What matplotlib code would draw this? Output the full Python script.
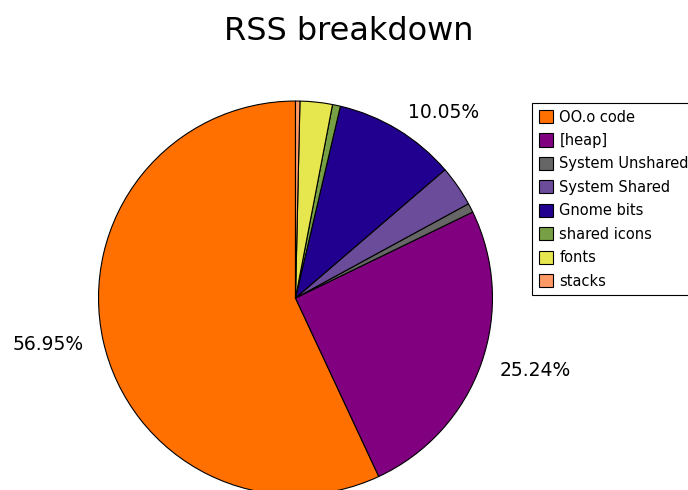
import matplotlib
matplotlib.use('Agg')
import matplotlib.pyplot as plt

names = ['OO.o code', '[heap]', 'System Unshared', 'System Shared',
         'Gnome bits', 'shared icons', 'fonts', 'stacks']
values = [56.95, 25.24, 0.75, 3.35, 10.05, 0.65, 2.65, 0.36]
colors = ['#ff7000', '#800080', '#666666', '#6b4c9a',
          '#22008f', '#76a043', '#e6e64e', '#ff9966']

total = sum(values)
pct_labels = ['%.2f%%' % (v / total * 100) if v / total > 0.05 else '' for v in values]

fig = plt.figure(figsize=(6.88, 4.90), dpi=100)
ax = fig.add_axes([0.0716, -0.1107, 0.7158, 1.005])

wedges, texts = ax.pie(values, labels=pct_labels, colors=colors, startangle=90,
                       counterclock=True, labeldistance=1.1,
                       wedgeprops=dict(edgecolor='black', linewidth=0.8),
                       textprops=dict(fontsize=13.5))
ax.set_xlim(-1.25, 1.25)
ax.set_ylim(-1.25, 1.25)
ax.set_aspect('equal')
for w in wedges:
    w.set_clip_on(False)

fig.suptitle('RSS breakdown', fontsize=23, x=0.507, y=0.968)

leg = fig.legend(wedges, names, loc='upper left', bbox_to_anchor=(532 / 688, 1 - 103 / 490),
                 bbox_transform=fig.transFigure, fontsize=10.5, frameon=True,
                 fancybox=False, framealpha=1, edgecolor='black',
                 handlelength=1.0, handleheight=1.0, labelspacing=0.58,
                 handletextpad=0.42, borderpad=0.45, borderaxespad=0)
leg.get_frame().set_linewidth(0.8)

fig.savefig('out.png', dpi=100)
